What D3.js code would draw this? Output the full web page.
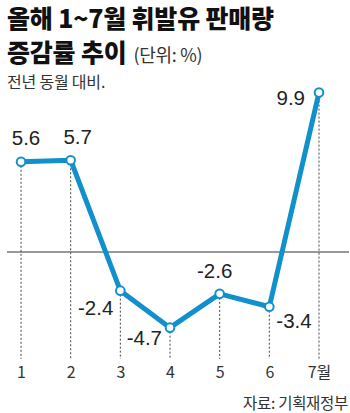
<!DOCTYPE html>
<html>
<head>
<meta charset="utf-8">
<script src="https://cdn.jsdelivr.net/npm/d3@7"></script>
<style>
  html, body { margin: 0; padding: 0; background: #fff; }
  svg { display: block; }
</style>
</head>
<body>
<svg id="chart" width="350" height="413"></svg>
<script>
// Monthly year-on-year change in gasoline sales (%)
const months = [1, 2, 3, 4, 5, 6, 7];
const monthLabels = ["1", "2", "3", "4", "5", "6", "7월"];
const changeValues = [5.6, 5.7, -2.4, -4.7, -2.6, -3.4, 9.9];

const titleLines = ["올해 1~7월 휘발유 판매량", "증감률 추이"];
const unitText = "(단위: %)";
const subtitle = "전년 동월 대비.";
const sourceText = "자료: 기획재정부";

const svg = d3.select("#chart");
const BLUE = "#1190cb";
const INK = "#222";
const KR = "'Noto Sans CJK KR', 'Noto Sans', sans-serif";
const NUM = "'Liberation Sans', Arial, sans-serif";

const x = d3.scalePoint().domain(months).range([21, 319]);
const y = d3.scaleLinear().domain([-5, 10]).range([332.5, 91]);
const bottomY = 359;

// Titles
svg.append("text").attr("x", 7).attr("y", 28)
  .attr("font-family", KR).attr("font-weight", 900).attr("font-size", 25)
  .attr("fill", "#111").attr("letter-spacing", -0.2)
  .text(titleLines[0]);
const t2 = svg.append("text").attr("x", 7).attr("y", 62)
  .attr("font-family", KR).attr("font-weight", 900).attr("font-size", 25)
  .attr("fill", "#111").attr("letter-spacing", -0.2);
t2.append("tspan").text(titleLines[1]);
t2.append("tspan").attr("dx", 7).attr("font-weight", 400).attr("font-size", 18)
  .attr("fill", "#333").attr("letter-spacing", -0.3).text(unitText);
svg.append("text").attr("x", 7).attr("y", 88)
  .attr("font-family", KR).attr("font-size", 16).attr("fill", "#333")
  .attr("letter-spacing", -0.2)
  .text(subtitle);

// Zero baseline
svg.append("line")
  .attr("x1", 7).attr("x2", 349)
  .attr("y1", y(0)).attr("y2", y(0))
  .attr("stroke", "#333").attr("stroke-width", 1);

// Dotted drop lines
svg.append("g").selectAll("line")
  .data(months)
  .join("line")
  .attr("x1", d => x(d)).attr("x2", d => x(d))
  .attr("y1", (d, i) => y(changeValues[i]))
  .attr("y2", bottomY)
  .attr("stroke", "#444").attr("stroke-width", 1)
  .attr("stroke-dasharray", "2,2");

// Trend line
const line = d3.line()
  .x((d, i) => x(months[i]))
  .y(d => y(d));
svg.append("path")
  .datum(changeValues)
  .attr("d", line)
  .attr("fill", "none")
  .attr("stroke", BLUE)
  .attr("stroke-width", 5)
  .attr("stroke-linejoin", "round");

// Markers
svg.append("g").selectAll("circle")
  .data(changeValues)
  .join("circle")
  .attr("cx", (d, i) => x(months[i]))
  .attr("cy", d => y(d))
  .attr("r", 4.3)
  .attr("fill", "#fff")
  .attr("stroke", BLUE)
  .attr("stroke-width", 2);

// Value labels, each placed beside its marker
const labelPlacement = [
  { dx: 5, dy: -17, anchor: "middle" },
  { dx: 7, dy: -16, anchor: "middle" },
  { dx: -7, dy: 24, anchor: "end" },
  { dx: -8, dy: 17, anchor: "end" },
  { dx: -5, dy: -16, anchor: "middle" },
  { dx: 7, dy: 21, anchor: "start" },
  { dx: -14, dy: 12, anchor: "end" }
];
svg.append("g").selectAll("text")
  .data(changeValues)
  .join("text")
  .attr("x", (d, i) => x(months[i]) + labelPlacement[i].dx)
  .attr("y", (d, i) => y(d) + labelPlacement[i].dy)
  .attr("text-anchor", (d, i) => labelPlacement[i].anchor)
  .attr("font-family", NUM).attr("font-size", 20.5)
  .attr("fill", INK)
  .text(d => d.toFixed(1));

// Month axis labels
const axis = d3.axisBottom(x).tickSize(0).tickFormat((d, i) => monthLabels[i]);
const gAxis = svg.append("g").attr("transform", `translate(0,${366})`).call(axis);
gAxis.select(".domain").remove();
gAxis.selectAll("text")
  .attr("font-family", "'Noto Sans CJK KR', " + NUM)
  .attr("font-size", 16)
  .attr("fill", "#333")
  .attr("dy", "0.55em");

// Source note
svg.append("text").attr("x", 348).attr("y", 409)
  .attr("text-anchor", "end")
  .attr("font-family", KR).attr("font-size", 15.5).attr("fill", "#333")
  .attr("letter-spacing", -0.3)
  .text(sourceText);
</script>
</body>
</html>
